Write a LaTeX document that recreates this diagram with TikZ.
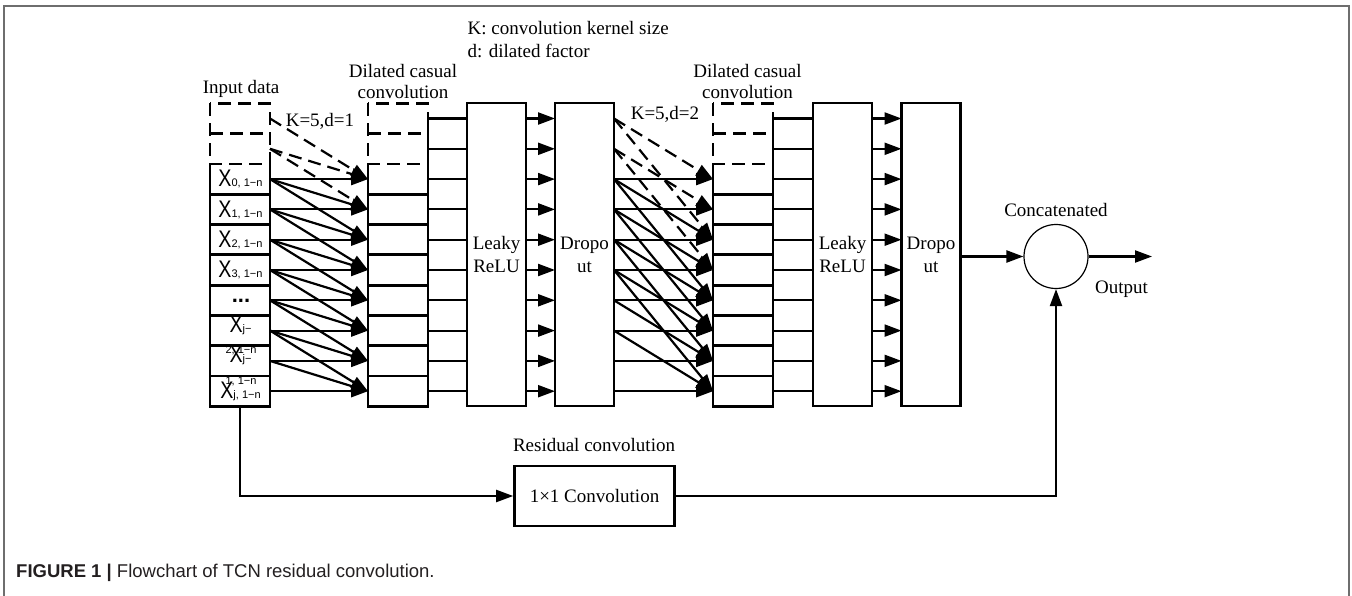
\documentclass[tikz,border=0pt]{standalone}
\usepackage{fontspec}
\setmainfont{Liberation Serif}
\newfontfamily\sansf{Liberation Sans}
\usetikzlibrary{arrows.meta,calc}
\definecolor{framegray}{HTML}{6E6E6E}
\definecolor{captxt}{HTML}{231F20}
\newcommand\xsub[1]{{\fontsize{11}{11}\selectfont #1}}
\newcommand\bigX{{\fontsize{24}{24}\selectfont\scalebox{0.82}[1]{X}}}
\begin{document}
\begin{tikzpicture}[x=1pt,y=-1pt,
  box/.style={line width=2.8pt,line join=miter},
  dsh/.style={line width=2.8pt,dash pattern=on 13pt off 7pt},
  cell/.style={draw=none,minimum width=60pt,minimum height=30.3pt,inner sep=0pt,outer sep=0pt},
  bigbox/.style={draw,line width=2.8pt,minimum width=59pt,minimum height=303pt,inner sep=0pt,outer sep=0pt,align=center,font=\fontsize{19}{23}\selectfont},
  ln/.style={line width=2.2pt},
  arr/.style={line width=2.2pt,-{Triangle[length=17pt,width=12pt]}},
  darr/.style={arr,dash pattern=on 13pt off 7pt},
  lbl/.style={font=\fontsize{19}{21}\selectfont,inner sep=0pt},
  xl/.style={font=\sansf,inner sep=0pt,anchor=base}
]
\useasboundingbox (0,0) rectangle (1352,596);
\draw[line width=1.5pt,framegray] (4,598) -- (4,6) -- (1349,6) -- (1349,598);

% ---------- columns of cells ----------
\foreach \k in {0,...,9}{
  \pgfmathsetmacro\yy{118.5+30.3*\k}
  \node[cell] (in\k) at (240,\yy) {};
  \node[cell] (ca\k) at (398,\yy) {};
  \node[cell] (cb\k) at (743,\yy) {};
}
\foreach \c in {in,ca,cb}{
  \draw[dsh] (\c0.north west) rectangle (\c1.south east);
  \draw[dsh] (\c0.south west) -- (\c0.south east);
  \draw[box] (\c2.north west) -- (\c9.south west) -- (\c9.south east) -- (\c2.north east);
  \foreach \k in {2,...,8}{ \draw[box] (\c\k.south west) -- (\c\k.south east); }
}
\draw[box] (ca0.east) -- (ca2.north east);
\draw[box] (cb0.east) -- (cb2.north east);

% ---------- big boxes ----------
\node[bigbox] (L1) at (496.5,254.5) {Leaky\\ReLU};
\node[bigbox] (D1) at (584.5,254.5) {Dropo\\ut};
\node[bigbox] (L2) at (842.5,254.5) {Leaky\\ReLU};
\node[bigbox] (D2) at (931,254.5) {Dropo\\ut};

\foreach \k in {0,...,9}{
  \draw[ln] (ca\k.east) -- (ca\k.east -| L1.west);
  \draw[arr] (ca\k.east -| L1.east) -- (ca\k.east -| D1.west);
  \draw[ln] (cb\k.east) -- (cb\k.east -| L2.west);
  \draw[arr] (cb\k.east -| L2.east) -- (cb\k.east -| D2.west);
  \coordinate (do\k) at (ca\k.east -| D1.east);
}

% ---------- fan 1 (K=5, d=1) ----------
\foreach \i in {0,...,9}{
  \foreach \d in {0,1,2}{
    \pgfmathtruncatemacro\j{\i+\d}
    \ifnum\j>9\relax\else\ifnum\j<2\relax\else
      \ifnum\i<2 \draw[darr] (in\i.east) -- (ca\j.west);
      \else \draw[arr] (in\i.east) -- (ca\j.west); \fi
    \fi\fi
  }
}
% ---------- fan 2 (K=5, d=2) ----------
\foreach \i in {0,...,9}{
  \foreach \d in {0,2,4}{
    \pgfmathtruncatemacro\j{\i+\d}
    \ifnum\j>9\relax\else\ifnum\j<2\relax\else
      \ifnum\i<2 \draw[darr] (do\i) -- (cb\j.west);
      \else \draw[arr] (do\i) -- (cb\j.west); \fi
    \fi\fi
  }
}

% ---------- input labels ----------
\node[xl] (lx2) at (240.5,187) {\bigX\xsub{0, 1−n}};
\node[xl] (lx3) at (240.5,217.3) {\bigX\xsub{1, 1−n}};
\node[xl] (lx4) at (240.5,247.6) {\bigX\xsub{2, 1−n}};
\node[xl] (lx5) at (240.5,277.9) {\bigX\xsub{3, 1−n}};
\node[xl,font=\sansf\bfseries\fontsize{22}{22}\selectfont] (lx6) at (241,302) {...};
\node[xl] (lx7) at (240.5,332) {\bigX\xsub{j−}};
\node[xl] (lx7b) at (241,353) {\xsub{2, 1−n}};
\node[xl] (lx8) at (240.5,362.5) {\bigX\xsub{j−}};
\node[xl] (lx8b) at (241,384) {\xsub{1, 1−n}};
\node[xl] (lx9) at (240.5,398) {\bigX\xsub{j, 1−n}};

% ---------- concatenation / residual ----------
\node[draw,circle,line width=1.2pt,minimum size=64pt,inner sep=0pt] (cat) at (1056,256.5) {};
\coordinate (outp) at (1152,256.5);
\draw[arr] (D2.east |- cat.west) -- (cat.west);
\draw[arr] (cat.east) -- (outp);
\node[draw,line width=2.6pt,minimum width=160pt,minimum height=60pt,inner sep=0pt,font=\fontsize{19}{21}\selectfont] (conv) at (594.5,496) {1×1 Convolution};
\draw[arr] (in9.south) |- (conv.west);
\draw[arr] (conv.east) -| (cat.south);

% ---------- texts ----------
\node[lbl,anchor=base west] (kt) at (467.5,35) {K: convolution kernel size};
\node[lbl,anchor=base west] (dt) at (467.5,58) {d: dilated factor};
\node[lbl,anchor=base] (inp) at (241,93.5) {Input data};
\node[lbl,anchor=base] (dc1a) at (403,78) {Dilated casual};
\node[lbl,anchor=base] (dc1b) at (403,99) {convolution};
\node[lbl,anchor=base] (dc2a) at (747.5,77.5) {Dilated casual};
\node[lbl,anchor=base] (dc2b) at (747.5,98.5) {convolution};
\node[lbl,anchor=base] (k1) at (320,127) {K=5,d=1};
\node[lbl,anchor=base] (k2) at (665,120) {K=5,d=2};
\node[lbl,anchor=base] (rc) at (594,451) {Residual convolution};
\node[lbl,anchor=base] (ct) at (1056,216.5) {Concatenated};
\node[lbl,anchor=base] (ot) at (1121.5,293.5) {Output};

\node[anchor=base west,inner sep=0pt,text=captxt,font=\sansf\fontsize{18.5}{18.5}\selectfont] (cap) at (16,577)
  {\textbf{FIGURE 1} \textbf{|} Flowchart of TCN residual convolution.};
\end{tikzpicture}
\end{document}
